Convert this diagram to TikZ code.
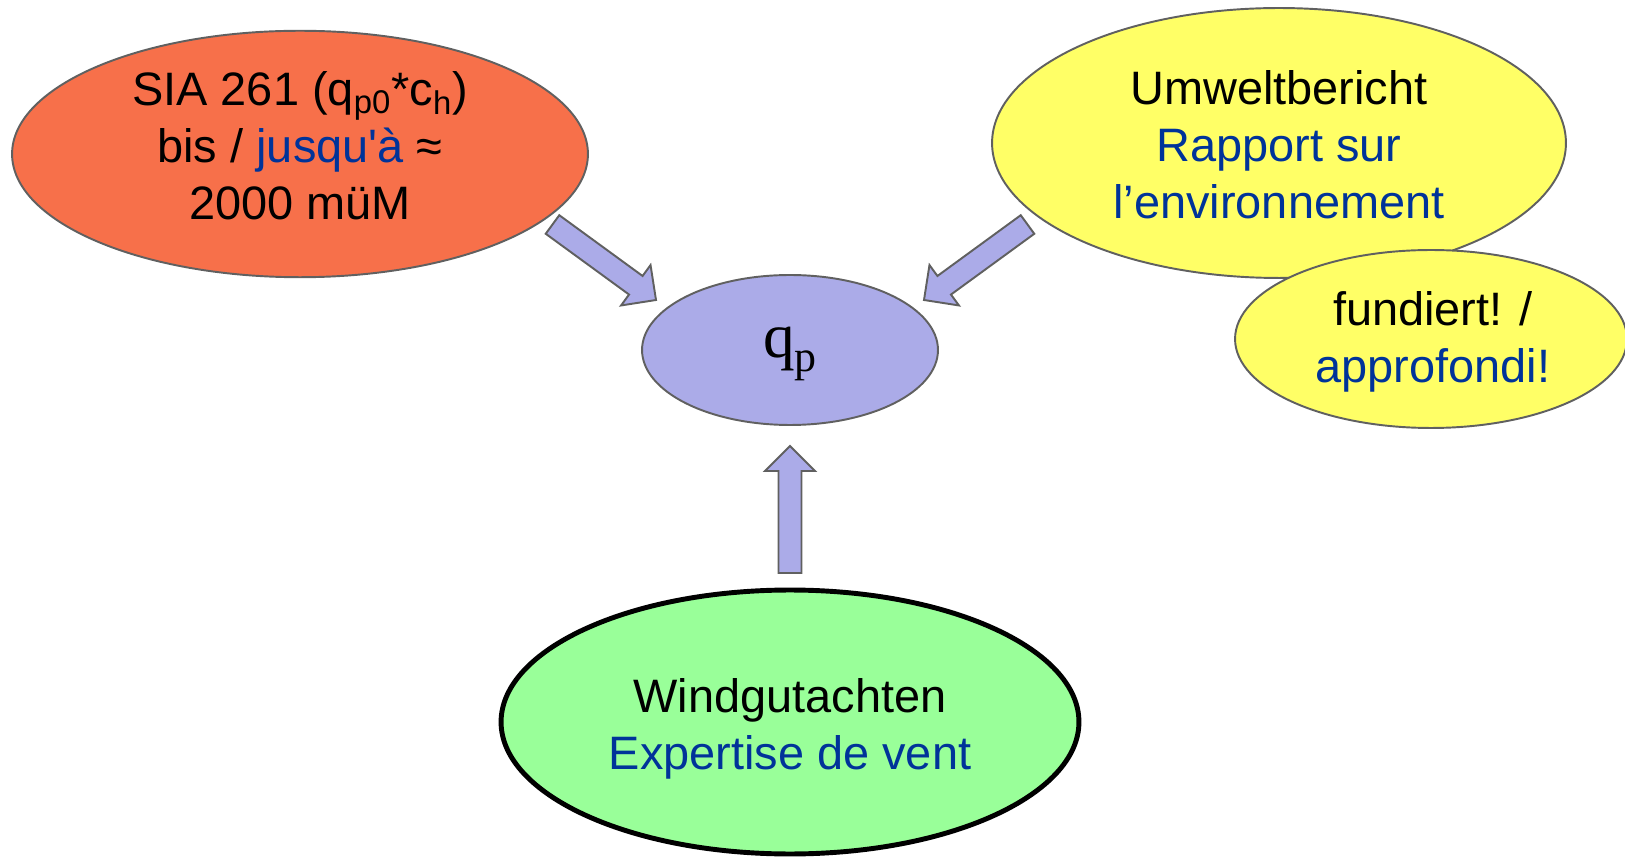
\documentclass[tikz,border=0pt]{standalone}
\usepackage{fontspec}
\setmainfont{Liberation Sans}
\newfontfamily\qpfont{Liberation Serif}
\usetikzlibrary{shapes.geometric,calc}

\definecolor{siared}{RGB}{247,112,74}
\definecolor{reportyellow}{RGB}{255,255,102}
\definecolor{windgreen}{RGB}{153,255,153}
\definecolor{qplilac}{RGB}{171,171,232}
\definecolor{rimgray}{RGB}{96,96,96}
\definecolor{frblue}{RGB}{0,51,153}

% fat block arrow from tail #1 to tip #2
\newcommand{\blockarrow}[2]{%
  \draw[fatarrow] ($(#1)!0.23cm!90:(#2)$) -- ($($(#2)!0.5cm!(#1)$)!0.23cm!90:(#2)$)
    -- ($($(#2)!0.5cm!(#1)$)!0.5cm!90:(#2)$) -- (#2)
    -- ($($(#2)!0.5cm!(#1)$)!0.5cm!-90:(#2)$) -- ($($(#2)!0.5cm!(#1)$)!0.23cm!-90:(#2)$)
    -- ($(#1)!0.23cm!-90:(#2)$) -- cycle;}

\begin{document}
\begin{tikzpicture}[x=0.02cm,y=-0.02cm,
    blob/.style={ellipse,draw=rimgray,line width=1.1pt,inner sep=0pt},
    blobtext/.style={inner sep=0pt,align=center,font=\fontsize{26.7}{32.5}\selectfont},
    fatarrow/.style={draw=rimgray,fill=qplilac,line width=1.1pt,line join=miter}]
    \useasboundingbox (0,0) rectangle (1625,857);
    % Draw the sources
    \node (sia) [blob,fill=siared,minimum width=11.52cm,minimum height=4.93cm] at (300,154) {};
    \node (siatext) [blobtext] at ($(sia)+(0,-8)$)
        {SIA 261 (q\textsubscript{p0}*c\textsubscript{h})\\
         bis / \textcolor{frblue}{jusqu\textquotesingle à} ≈\\
         2000 müM};
    \node (report) [blob,fill=reportyellow,minimum width=11.48cm,minimum height=5.4cm] at (1279,143) {};
    \node (reporttext) [blobtext] at ($(report)+(0,2)$)
        {Umweltbericht\\ \textcolor{frblue}{Rapport sur}\\ \textcolor{frblue}{l’environnement}};
    \node (sound) [blob,fill=reportyellow,minimum width=7.84cm,minimum height=3.56cm] at (1431,339) {};
    \node (soundtext) [blobtext] at ($(sound)+(2,3)$)
        {fundiert! /\\ \textcolor{frblue}{approfondi!}};
    \node (wind) [blob,fill=windgreen,draw=black,line width=2.8pt,minimum width=11.56cm,minimum height=5.28cm] at (790,722) {};
    \node (windtext) [blobtext] at ($(wind)+(0,7)$)
        {Windgutachten\\ \textcolor{frblue}{Expertise de vent}};
    % Draw the target
    \node (qp) [blob,fill=qplilac,minimum width=5.92cm,minimum height=3cm] at (790,350) {};
    \node (qptext) [inner sep=0pt,font=\qpfont\fontsize{36}{36}\selectfont] at ($(qp)+(0,4)$)
        {q\raisebox{-8.5pt}{\fontsize{25}{25}\selectfont p}};
    % Draw the arrows
    \coordinate (siatail) at (552.5,224.5);
    \coordinate (siatip) at (656,300);
    \coordinate (reporttail) at (1027.5,224.5);
    \coordinate (reporttip) at (924,300);
    \coordinate (windtail) at (790,573);
    \coordinate (windtip) at (790,446);
    \blockarrow{siatail}{siatip}
    \blockarrow{reporttail}{reporttip}
    \blockarrow{windtail}{windtip}
\end{tikzpicture}
\end{document}
